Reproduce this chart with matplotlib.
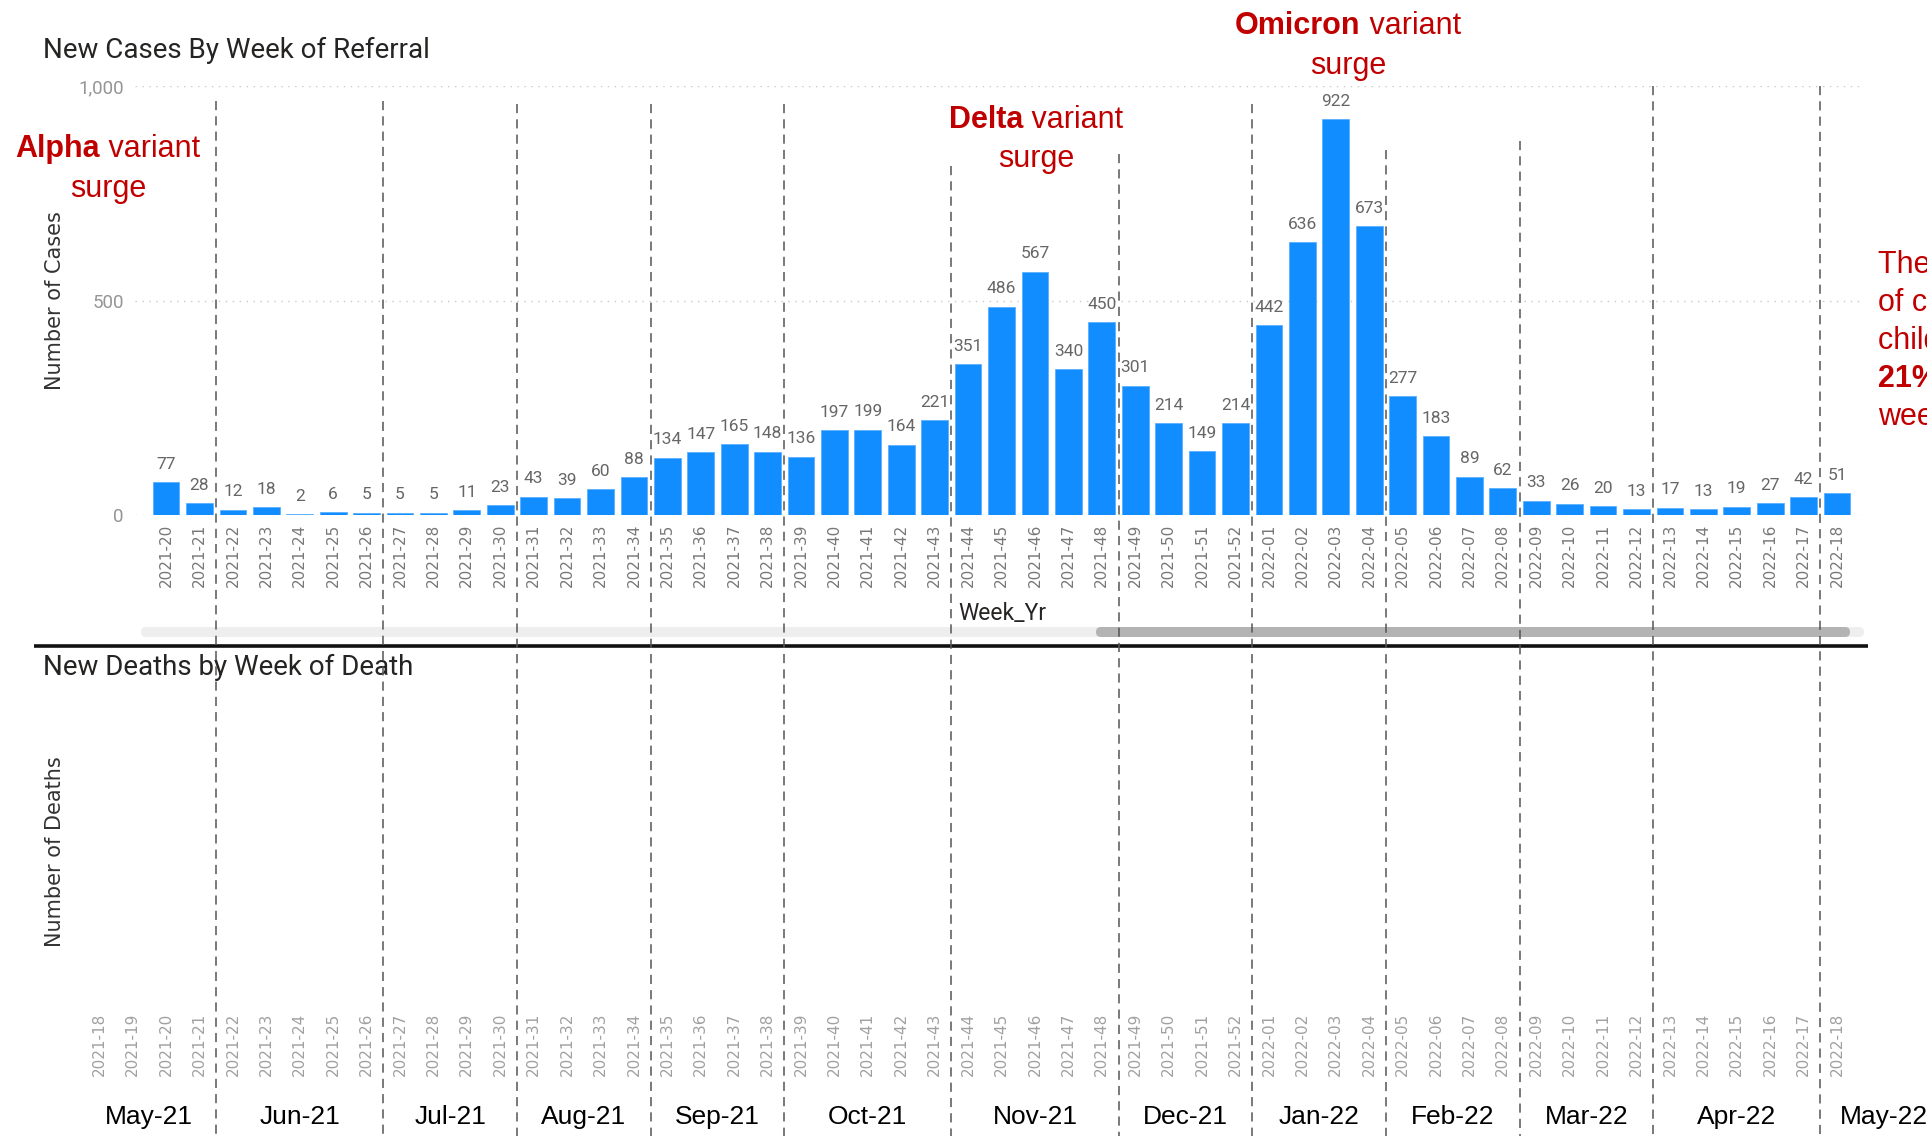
import matplotlib
matplotlib.use('Agg')
import matplotlib.pyplot as plt
from matplotlib import font_manager, transforms
from matplotlib.patches import FancyBboxPatch
from matplotlib.font_manager import FontProperties

# ---------------- data ----------------
weeks_cases = ['2021-20', '2021-21', '2021-22', '2021-23', '2021-24', '2021-25', '2021-26',
               '2021-27', '2021-28', '2021-29', '2021-30', '2021-31', '2021-32', '2021-33',
               '2021-34', '2021-35', '2021-36', '2021-37', '2021-38', '2021-39', '2021-40',
               '2021-41', '2021-42', '2021-43', '2021-44', '2021-45', '2021-46', '2021-47',
               '2021-48', '2021-49', '2021-50', '2021-51', '2021-52', '2022-01', '2022-02',
               '2022-03', '2022-04', '2022-05', '2022-06', '2022-07', '2022-08', '2022-09',
               '2022-10', '2022-11', '2022-12', '2022-13', '2022-14', '2022-15', '2022-16',
               '2022-17', '2022-18']
cases = [77, 28, 12, 18, 2, 6, 5, 5, 5, 11, 23, 43, 39, 60, 88, 134, 147, 165, 148, 136,
         197, 199, 164, 221, 351, 486, 567, 340, 450, 301, 214, 149, 214, 442, 636, 922,
         673, 277, 183, 89, 62, 33, 26, 20, 13, 17, 13, 19, 27, 42, 51]
weeks_deaths = ['2021-18', '2021-19'] + weeks_cases
month_labels = ['May-21', 'Jun-21', 'Jul-21', 'Aug-21', 'Sep-21', 'Oct-21', 'Nov-21',
                'Dec-21', 'Jan-22', 'Feb-22', 'Mar-22', 'Apr-22', 'May-22']
month_last_week = ['2021-21', '2021-26', '2021-30', '2021-34', '2021-38', '2021-43',
                   '2021-48', '2021-52', '2022-04', '2022-08', '2022-12', '2022-17']
cases_yticks = [0, 500, 1000]
cases_yticklabels = ['0', '500', '1,000']

# ---------------- style / layout ----------------
W, H = 1927, 1136
BLUE = '#118DFF'
RED = '#C00000'
X0, DX = 99.2, 33.42          # pixel position of week index 0 and pixel step per week

ANN_FONT = ['Liberation Sans', 'DejaVu Sans']
UI_FONT = ['Roboto', 'DejaVu Sans']

# month labels: a narrow Arial-like face if one is installed
narrow_path = None
for f in font_manager.fontManager.ttflist:
    fn = f.fname.lower().replace(' ', '').replace('_', '')
    if 'liberationsansnarrow-regular' in fn or 'arialnarrow.ttf' in fn or fn.endswith('arialn.ttf'):
        narrow_path = f.fname
        break
if narrow_path:
    MONTH_FP = FontProperties(fname=narrow_path, size=22)
else:
    MONTH_FP = FontProperties(family=['Liberation Sans'], size=19)

fig = plt.figure(figsize=(W / 100, H / 100), dpi=100)
fig.patch.set_facecolor('white')


def px2idx(p):
    return (p - X0) / DX


def add_axes_px(left, right, top, bottom):
    ax = fig.add_axes([left / W, 1 - bottom / H, (right - left) / W, (bottom - top) / H])
    ax.set_xlim(px2idx(left), px2idx(right))
    return ax


# overlay in figure pixels (y down)
overlay = fig.add_axes([0, 0, 1, 1], zorder=5)
overlay.set_xlim(0, W)
overlay.set_ylim(H, 0)
overlay.axis('off')
overlay.patch.set_visible(False)

# ---------------- top chart: cases ----------------
ax = add_axes_px(135, 1862, 86, 515)
ax.set_ylim(0, 1000)
xc = [weeks_deaths.index(w) for w in weeks_cases]
ax.bar(xc, cases, width=0.8, color=BLUE, edgecolor='#5AB0FF', linewidth=0.6, zorder=3)
for x, v in zip(xc, cases):
    ax.annotate(str(v), (x, v), xytext=(0, 7.5), textcoords='offset points', ha='center',
                va='bottom', fontsize=12.5, color='#666666', family=UI_FONT, clip_on=False)
for s in ax.spines.values():
    s.set_visible(False)
ax.set_yticks(cases_yticks)
ax.set_yticklabels(cases_yticklabels, family=UI_FONT, fontsize=13.5, color='#959595')
ax.tick_params(axis='y', length=0, pad=8)
ax.yaxis.grid(True, linestyle=(0, (1, 4)), color='#C8C8C8', linewidth=1)
ax.set_axisbelow(True)
ax.set_xticks(xc)
ax.set_xticklabels(weeks_cases, rotation=90, fontsize=11, color='#777777', family='DejaVu Sans')
ax.tick_params(axis='x', length=0, pad=6)
ax.patch.set_visible(False)

# ---------------- bottom chart: deaths (empty) ----------------
ax2 = add_axes_px(34, 1868, 665, 1004)
xd = list(range(len(weeks_deaths)))
ax2.set_ylim(0, 1)
for s in ax2.spines.values():
    s.set_visible(False)
ax2.set_yticks([])
ax2.set_xticks(xd)
ax2.set_xticklabels(weeks_deaths, rotation=90, fontsize=11, color='#A0A0A0', family='DejaVu Sans')
ax2.tick_params(axis='x', length=0, pad=6)
ax2.patch.set_visible(False)

# ---------------- month boundaries and labels ----------------
blend = transforms.blended_transform_factory(ax.transData, overlay.transData)
bounds = [weeks_deaths.index(w) + 0.5 for w in month_last_week]
line_tops = [101, 101, 104, 104, 104, 166, 154, 104, 150, 141, 86, 86]
for b, yt in zip(bounds, line_tops):
    overlay.plot([b, b], [yt, H], transform=blend, color='#555555', lw=1.1,
                 linestyle=(0, (6, 4)), clip_on=False, zorder=6)

edges = [-0.5] + bounds + [55.3]
for i, lab in enumerate(month_labels):
    mid = (edges[i] + edges[i + 1]) / 2
    overlay.text(mid, 1117, lab, transform=blend, ha='center', va='center',
                 fontproperties=MONTH_FP, color='black')

# ---------------- decorations ----------------
overlay.text(43, 50, 'New Cases By Week of Referral', ha='left', va='center',
             family=UI_FONT, fontsize=20, color='#252423')
overlay.text(43, 667, 'New Deaths by Week of Death', ha='left', va='center',
             family=UI_FONT, fontsize=20, color='#252423')
overlay.text(55, 301, 'Number of Cases', rotation=90, ha='center', va='center',
             family='DejaVu Sans', fontsize=15, color='#333333')
overlay.text(55, 852, 'Number of Deaths', rotation=90, ha='center', va='center',
             family='DejaVu Sans', fontsize=15, color='#333333')
overlay.text(1002, 614, 'Week_Yr', ha='center', va='center',
             family=UI_FONT, fontsize=16.5, color='#252423')

overlay.add_patch(FancyBboxPatch((141, 627), 1723, 10, boxstyle='round,pad=0,rounding_size=5',
                                 facecolor='#EEEEEE', edgecolor='none'))
overlay.add_patch(FancyBboxPatch((1096, 627), 754, 10, boxstyle='round,pad=0,rounding_size=5',
                                 facecolor='#B3B3B3', edgecolor='none'))
overlay.plot([34, 1868], [646, 646], color='#111111', lw=2.6, solid_capstyle='butt')

renderer = fig.canvas.get_renderer()


def mixed_line(parts, x, y, align='center'):
    objs, widths = [], []
    for t, wgt in parts:
        o = overlay.text(0, y, t, ha='left', va='center', family=ANN_FONT,
                         fontsize=22, fontweight=wgt, color=RED)
        widths.append(o.get_window_extent(renderer=renderer).width)
        objs.append(o)
    total = sum(widths)
    cur = x - total / 2 if align == 'center' else x
    for o, w in zip(objs, widths):
        o.set_x(cur)
        cur += w


mixed_line([('Alpha', 'bold'), (' variant', 'normal')], 108, 149)
mixed_line([('surge', 'normal')], 108, 189)
mixed_line([('Delta', 'bold'), (' variant', 'normal')], 1036, 120)
mixed_line([('surge', 'normal')], 1036, 159)
mixed_line([('Omicron', 'bold'), (' variant', 'normal')], 1348, 26)
mixed_line([('surge', 'normal')], 1348, 66)

right_lines = [[('The number', 'normal')], [('of cases in', 'normal')],
               [('children fell', 'normal')], [('21%', 'bold'), (' this', 'normal')],
               [('week', 'normal')]]
for k, parts in enumerate(right_lines):
    mixed_line(parts, 1878, 265 + 38 * k, align='left')

fig.savefig('out.png', dpi=100)
